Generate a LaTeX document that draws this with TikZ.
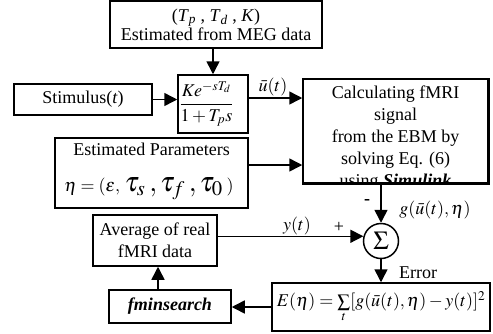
\documentclass[tikz,border=0pt]{standalone}
\usepackage{mathptmx}
\usepackage[no-math]{fontspec}
\setmainfont{Liberation Serif}
\usetikzlibrary{arrows.meta}
\begin{document}
\begin{tikzpicture}[x=1pt,y=-1pt,
  box/.style={draw,line width=1.5pt,inner sep=0pt,align=center},
  arr/.style={line width=1.5pt,-{Triangle[length=13pt,width=13pt]}},
  lbl/.style={inner sep=0pt},
  font=\fontsize{18}{20}\selectfont]
\useasboundingbox (0,0) rectangle (493,333);

% boxes
\node[box,minimum width=212,minimum height=47,font=\fontsize{18}{18}\selectfont] (top) at (216,24.5)
  {(\textit{T}\textsubscript{\textit{p}} , \textit{T}\textsubscript{\textit{d}} , \textit{K})\\Estimated from MEG data};
\node[box,minimum width=70,minimum height=58] (tf) at (213,104) {};
\node[lbl] (frac) at (206.5,104) {$\displaystyle\frac{Ke^{-sT_d}}{1+T_ps}$};
\node[box,minimum width=138,minimum height=31] (stim) at (83,99.5) {Stimulus(\textit{t})};
\node[box,minimum width=193,minimum height=70] (par) at (151.5,173) {};
\node[lbl,anchor=base] (p1) at (151.5,155) {Estimated Parameters};
\node[lbl,anchor=base] (p2) at (149,191) {$\eta=(\varepsilon,$\ {\fontsize{28}{28}\selectfont$\tau_s\:,\tau_f\:,\tau_0\:$}$)$};

\node[box,minimum width=185,minimum height=104] (calc) at (395.5,131) {};
\begin{scope}
  \clip (calc.south west) rectangle (calc.north east);
  \node[lbl,anchor=base] (c1) at (395.5,98) {Calculating fMRI};
  \node[lbl,anchor=base] (c2) at (395.5,120) {signal};
  \node[lbl,anchor=base] (c3) at (395.5,142) {from the EBM by};
  \node[lbl,anchor=base] (c4) at (395.5,164) {solving Eq. (6)};
  \node[lbl,anchor=base] (c5) at (395.5,186.5) {using \textbf{\textit{Simulink}}};
\end{scope}
\draw[line width=1.5pt] (calc.south west) rectangle (calc.north east);

\node[draw,circle,line width=1.5pt,minimum size=35,inner sep=0pt,font=\fontsize{26}{26}\selectfont] (sum) at (381,241) {$\Sigma$};
\node[box,minimum width=124,minimum height=51,font=\fontsize{18}{22}\selectfont] (avg) at (155,240.5) {Average of real\\fMRI data};
\node[box,minimum width=218,minimum height=48] (E) at (381,307) {$E(\eta) = \sum\limits_t [g(\bar{u}(t),\eta) - y(t)]^2$};
\node[box,minimum width=122,minimum height=33] (fmin) at (170,306.5) {\textbf{\textit{fminsearch}}};

% connectors
\coordinate (uy) at (0,98);
\coordinate (py) at (0,165);
\coordinate (fx) at (158,0);
\draw[arr] (top.south -| tf.north) -- (tf.north);
\draw[arr] (stim.east) -- (stim.east -| tf.west);
\draw[arr] (tf.east |- uy) -- (calc.west |- uy);
\draw[arr] (par.east |- py) -- (calc.west |- py);
\draw[arr] (calc.south -| sum.north) -- (sum.north);
\draw[arr] (avg.east |- sum.165) -- (sum.165);
\draw[arr] (sum.south) -- (E.north -| sum.south);
\draw[arr] (E.west) -- (fmin.east |- E.west);
\draw[arr] (fmin.north -| fx) -- (avg.south -| fx);

% labels
\node[lbl] (lu) at (273,87) {$\bar{u}(t)$};
\node[lbl] (lminus) at (367,202) {\textbf{-}};
\node[lbl] (lg) at (435,210) {$g(\bar{u}(t),\eta)$};
\node[lbl] (ly) at (297,226) {$y(t)$};
\node[lbl] (lplus) at (339,227) {+};
\node[lbl] (lerr) at (418,273) {Error};
\end{tikzpicture}
\end{document}
